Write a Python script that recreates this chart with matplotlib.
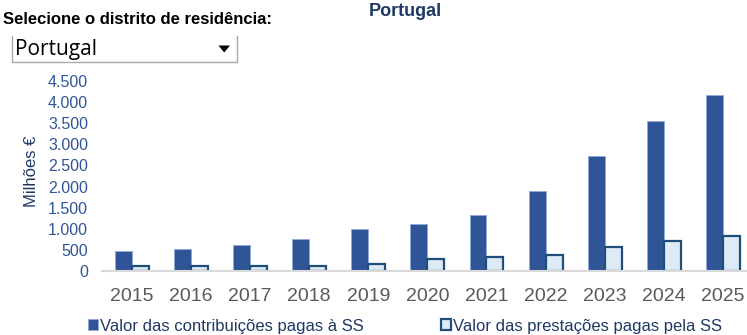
import numpy as np
import matplotlib
matplotlib.use("Agg")
import matplotlib.pyplot as plt
from matplotlib.patches import Polygon
from matplotlib.lines import Line2D

plt.rcParams['font.family'] = ['Liberation Sans', 'DejaVu Sans']

# valores em milhões de euros
anos = ['2015', '2016', '2017', '2018', '2019', '2020', '2021', '2022', '2023', '2024', '2025']
contribuicoes = [474, 521, 616, 765, 1009, 1113, 1326, 1902, 2724, 3543, 4168]
prestacoes = [133, 128, 130, 130, 166, 280, 339, 394, 568, 718, 829]

W, H = 747, 335
fig = plt.figure(figsize=(W / 100, H / 100), dpi=100)

# eixo: 2015 centrado em x=132, baseline em y=271, topo (4500) em y=81
x0, x1 = 102.1, 752.6
y0, y1 = 271.3, 80.7
ax = fig.add_axes([x0 / W, (H - y0) / H, (x1 - x0) / W, (y0 - y1) / H])

x = np.arange(len(anos))
w = 0.287
ax.bar(x - w / 2, contribuicoes, w, color='#2F5597', edgecolor='#8FAADC', linewidth=0.6,
       label='Valor das contribuições pagas à SS')
ax.bar(x + w / 2, prestacoes, w, color='#DDEBF7', edgecolor='#1F4E79', linewidth=1.6,
       label='Valor das prestações pagas pela SS')

ax.set_xlim(-0.5, len(anos) - 0.5)
ax.set_ylim(0, 4500)
ax.set_yticks(np.arange(0, 4501, 500))
ax.set_yticklabels([f'{v:,}'.replace(',', '.') for v in range(0, 4501, 500)])
ax.set_xticks(x)
ax.set_xticklabels(anos)

ax.tick_params(axis='y', length=0, pad=10, labelsize=11.5, labelcolor='#2F5597')
ax.tick_params(axis='x', length=0, pad=12, labelsize=14, labelcolor='#595959')
for s in ['top', 'right', 'left']:
    ax.spines[s].set_visible(False)
ax.spines['bottom'].set_color('#D9D9D9')
ax.spines['bottom'].set_linewidth(1.5)
ax.patch.set_alpha(0)

fig.text(32 / W, 1 - 171 / H, 'Milhões €', rotation=90, ha='center', va='center',
         fontsize=12, color='#1F3864')

fig.text(405 / W, 1 - 11 / H, 'Portugal', ha='center', va='center',
         fontsize=13, fontweight='bold', color='#1F3864')

fig.text(3 / W, 1 - 19 / H, 'Selecione o distrito de residência:', ha='left', va='center',
         fontsize=12, fontweight='bold', color='black')

# caixa de seleção (sem borda superior)
bx = [12 / W, 12 / W, 237 / W, 237 / W]
by = [1 - 36 / H, 1 - 62 / H, 1 - 62 / H, 1 - 36 / H]
fig.lines.append(Line2D(bx, by, transform=fig.transFigure, color='#ABABAB', linewidth=1))
fig.text(15 / W, 1 - 49 / H, 'Portugal', ha='left', va='center',
         fontsize=15, family=['Open Sans', 'DejaVu Sans'], color='black')
fig.patches.append(Polygon([[218.5 / W, 1 - 45.5 / H], [230 / W, 1 - 45.5 / H], [224.2 / W, 1 - 52.5 / H]],
                           closed=True, transform=fig.transFigure, facecolor='black', edgecolor='none'))

h, l = ax.get_legend_handles_labels()
fig.legend(h, l, loc='center left', bbox_to_anchor=(88 / W, 1 - 326 / H), ncol=2, frameon=False,
           fontsize=12, handlelength=0.6, handleheight=0.6, handletextpad=0.15,
           columnspacing=4.6, labelcolor='#203864', borderaxespad=0, borderpad=0)

fig.savefig('out.png', dpi=100)
